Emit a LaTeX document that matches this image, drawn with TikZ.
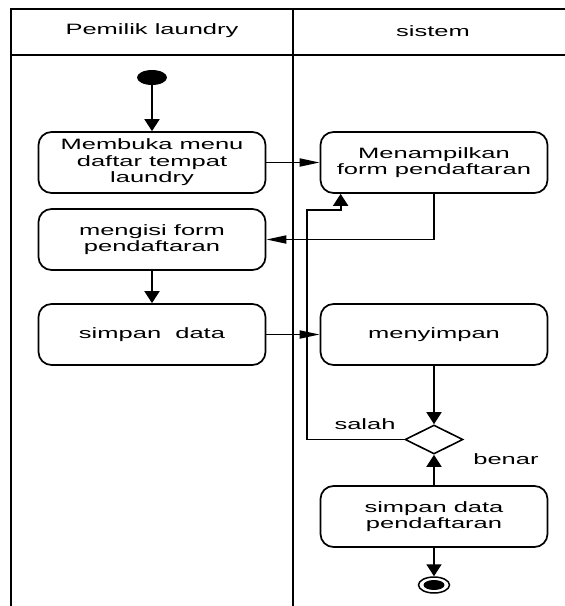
\documentclass[tikz,border=0pt]{standalone}
\usepackage{fontspec}
\setmainfont{Liberation Sans}[FakeStretch=1.7]
\usetikzlibrary{arrows.meta,shapes.geometric}
\tikzset{
  frame/.style={line width=2.2pt},
  act/.style={draw, line width=1.7pt, rounded corners=13pt, minimum width=227pt,
    minimum height=61pt, align=center, inner sep=0pt,
    font=\fontsize{15}{16.5}\selectfont},
  lbl/.style={font=\fontsize{15}{16.5}\selectfont, inner sep=0pt},
  conn/.style={line width=1.8pt},
  htip/.style={conn, -{Triangle[length=20pt,width=8pt]}},
  vtip/.style={conn, -{Triangle[length=12pt,width=15pt]}},
}
\begin{document}
\begin{tikzpicture}[x=1pt,y=-1pt]
\useasboundingbox (0,0) rectangle (565,606);
% swimlane frame
\draw[frame] (565,9) -- (11,9) -- (11,606);
\draw[frame] (11,55) -- (565,55);
\draw[frame] (293,9) -- (293,606);
\node[lbl] (h1) at (152,31) {Pemilik laundry};
\node[lbl] (h2) at (433,31) {sistem};
% nodes
\node[ellipse, fill=black, minimum width=30pt, minimum height=15pt, inner sep=0pt] (start) at (152,77.5) {};
\node[act] (m1) at (152,162.5) {Membuka menu\\daftar tempat\\laundry};
\node[act] (m2) at (434,162.5) {Menampilkan\\form pendaftaran};
\node[act] (m3) at (152,239.5) {mengisi form\\pendaftaran};
\node[act] (m4) at (152,334.5) {simpan\ \ data};
\node[act] (m5) at (434,334.5) {menyimpan};
\node[diamond, draw, line width=1.6pt, minimum width=58pt, minimum height=29pt, inner sep=0pt, aspect=2] (d) at (434,439.5) {};
\node[act] (m6) at (434,516.5) {simpan data\\pendaftaran};
\node[ellipse, draw, line width=1.5pt, minimum width=31pt, minimum height=16pt, inner sep=0pt] (end) at (434,585) {};
\node[ellipse, fill=black, minimum width=21pt, minimum height=10pt, inner sep=0pt] (endin) at (end.center) {};
\node[lbl] (salah) at (365,424) {salah};
\node[lbl] (benar) at (506,459) {benar};
% connectors
\draw[vtip] (start) -- (m1.north);
\draw[htip] (m1.east) -- (m2.west);
\draw[htip] (m2.south) |- (m3.east);
\draw[vtip] (m3.south) -- (m4.north);
\draw[htip] (m4.east) -- (m5.west);
\draw[vtip] (m5.south) -- (d.north);
\draw[vtip] (m6.north) -- (d.south);
\coordinate (c1) at (307,210);
\coordinate (lt) at ([xshift=21pt]m2.south west);
\draw[vtip] (d.west) -| (c1) -| (lt);
\draw[vtip] (m6.south) -- (end.north);
\end{tikzpicture}
\end{document}
